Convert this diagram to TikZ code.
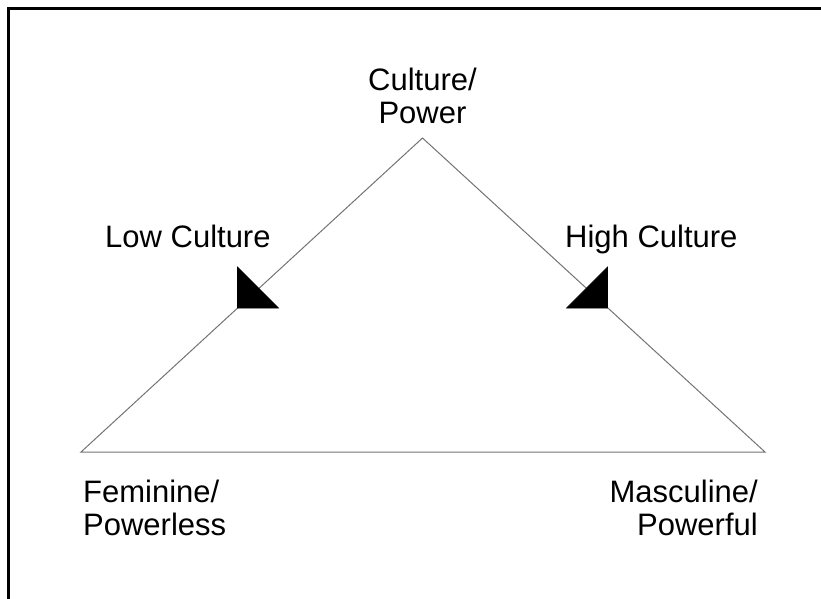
\documentclass[tikz,border=0pt]{standalone}
\usepackage{fontspec}
\setmainfont{Liberation Sans}
\begin{document}
\begin{tikzpicture}[x=1pt,y=-1pt,
  lbl/.style={inner sep=0pt, font=\fontsize{31}{33}\selectfont},
  edge/.style={draw=black!55, line width=1pt},
  marker/.style={fill=black, draw=black, line width=0.6pt}]
\useasboundingbox (0,0) rectangle (821,599);
% frame (top and left visible)
\draw[line width=3pt] (8,640) -- (8,8.5) -- (860,8.5);
% triangle corners
\coordinate (apex) at (422.5,138);
\coordinate (bl) at (81,452);
\coordinate (br) at (765,452);
\draw[edge] (bl) -- (apex) -- (br) -- cycle;
% markers
\coordinate (ml) at (237.5,308);
\coordinate (mr) at (607.5,308);
\fill[marker] (ml) -- ++(0,-41) -- ++(41,41) -- cycle;
\fill[marker] (mr) -- ++(0,-41) -- ++(-41,41) -- cycle;
% labels
\node[lbl, anchor=base] (t1) at (422.5,91) {Culture/};
\node[lbl, anchor=base] (t2) at (422.5,124) {Power};
\node[lbl, anchor=base west] (lc) at (105,247) {Low Culture};
\node[lbl, anchor=base west] (hc) at (565,247) {High Culture};
\node[lbl, anchor=base west] (f1) at (83,502) {Feminine/};
\node[lbl, anchor=base west] (f2) at (83,535) {Powerless};
\node[lbl, anchor=base east] (m1) at (758,502) {Masculine/};
\node[lbl, anchor=base east] (m2) at (758,535) {Powerful};
\end{tikzpicture}
\end{document}
